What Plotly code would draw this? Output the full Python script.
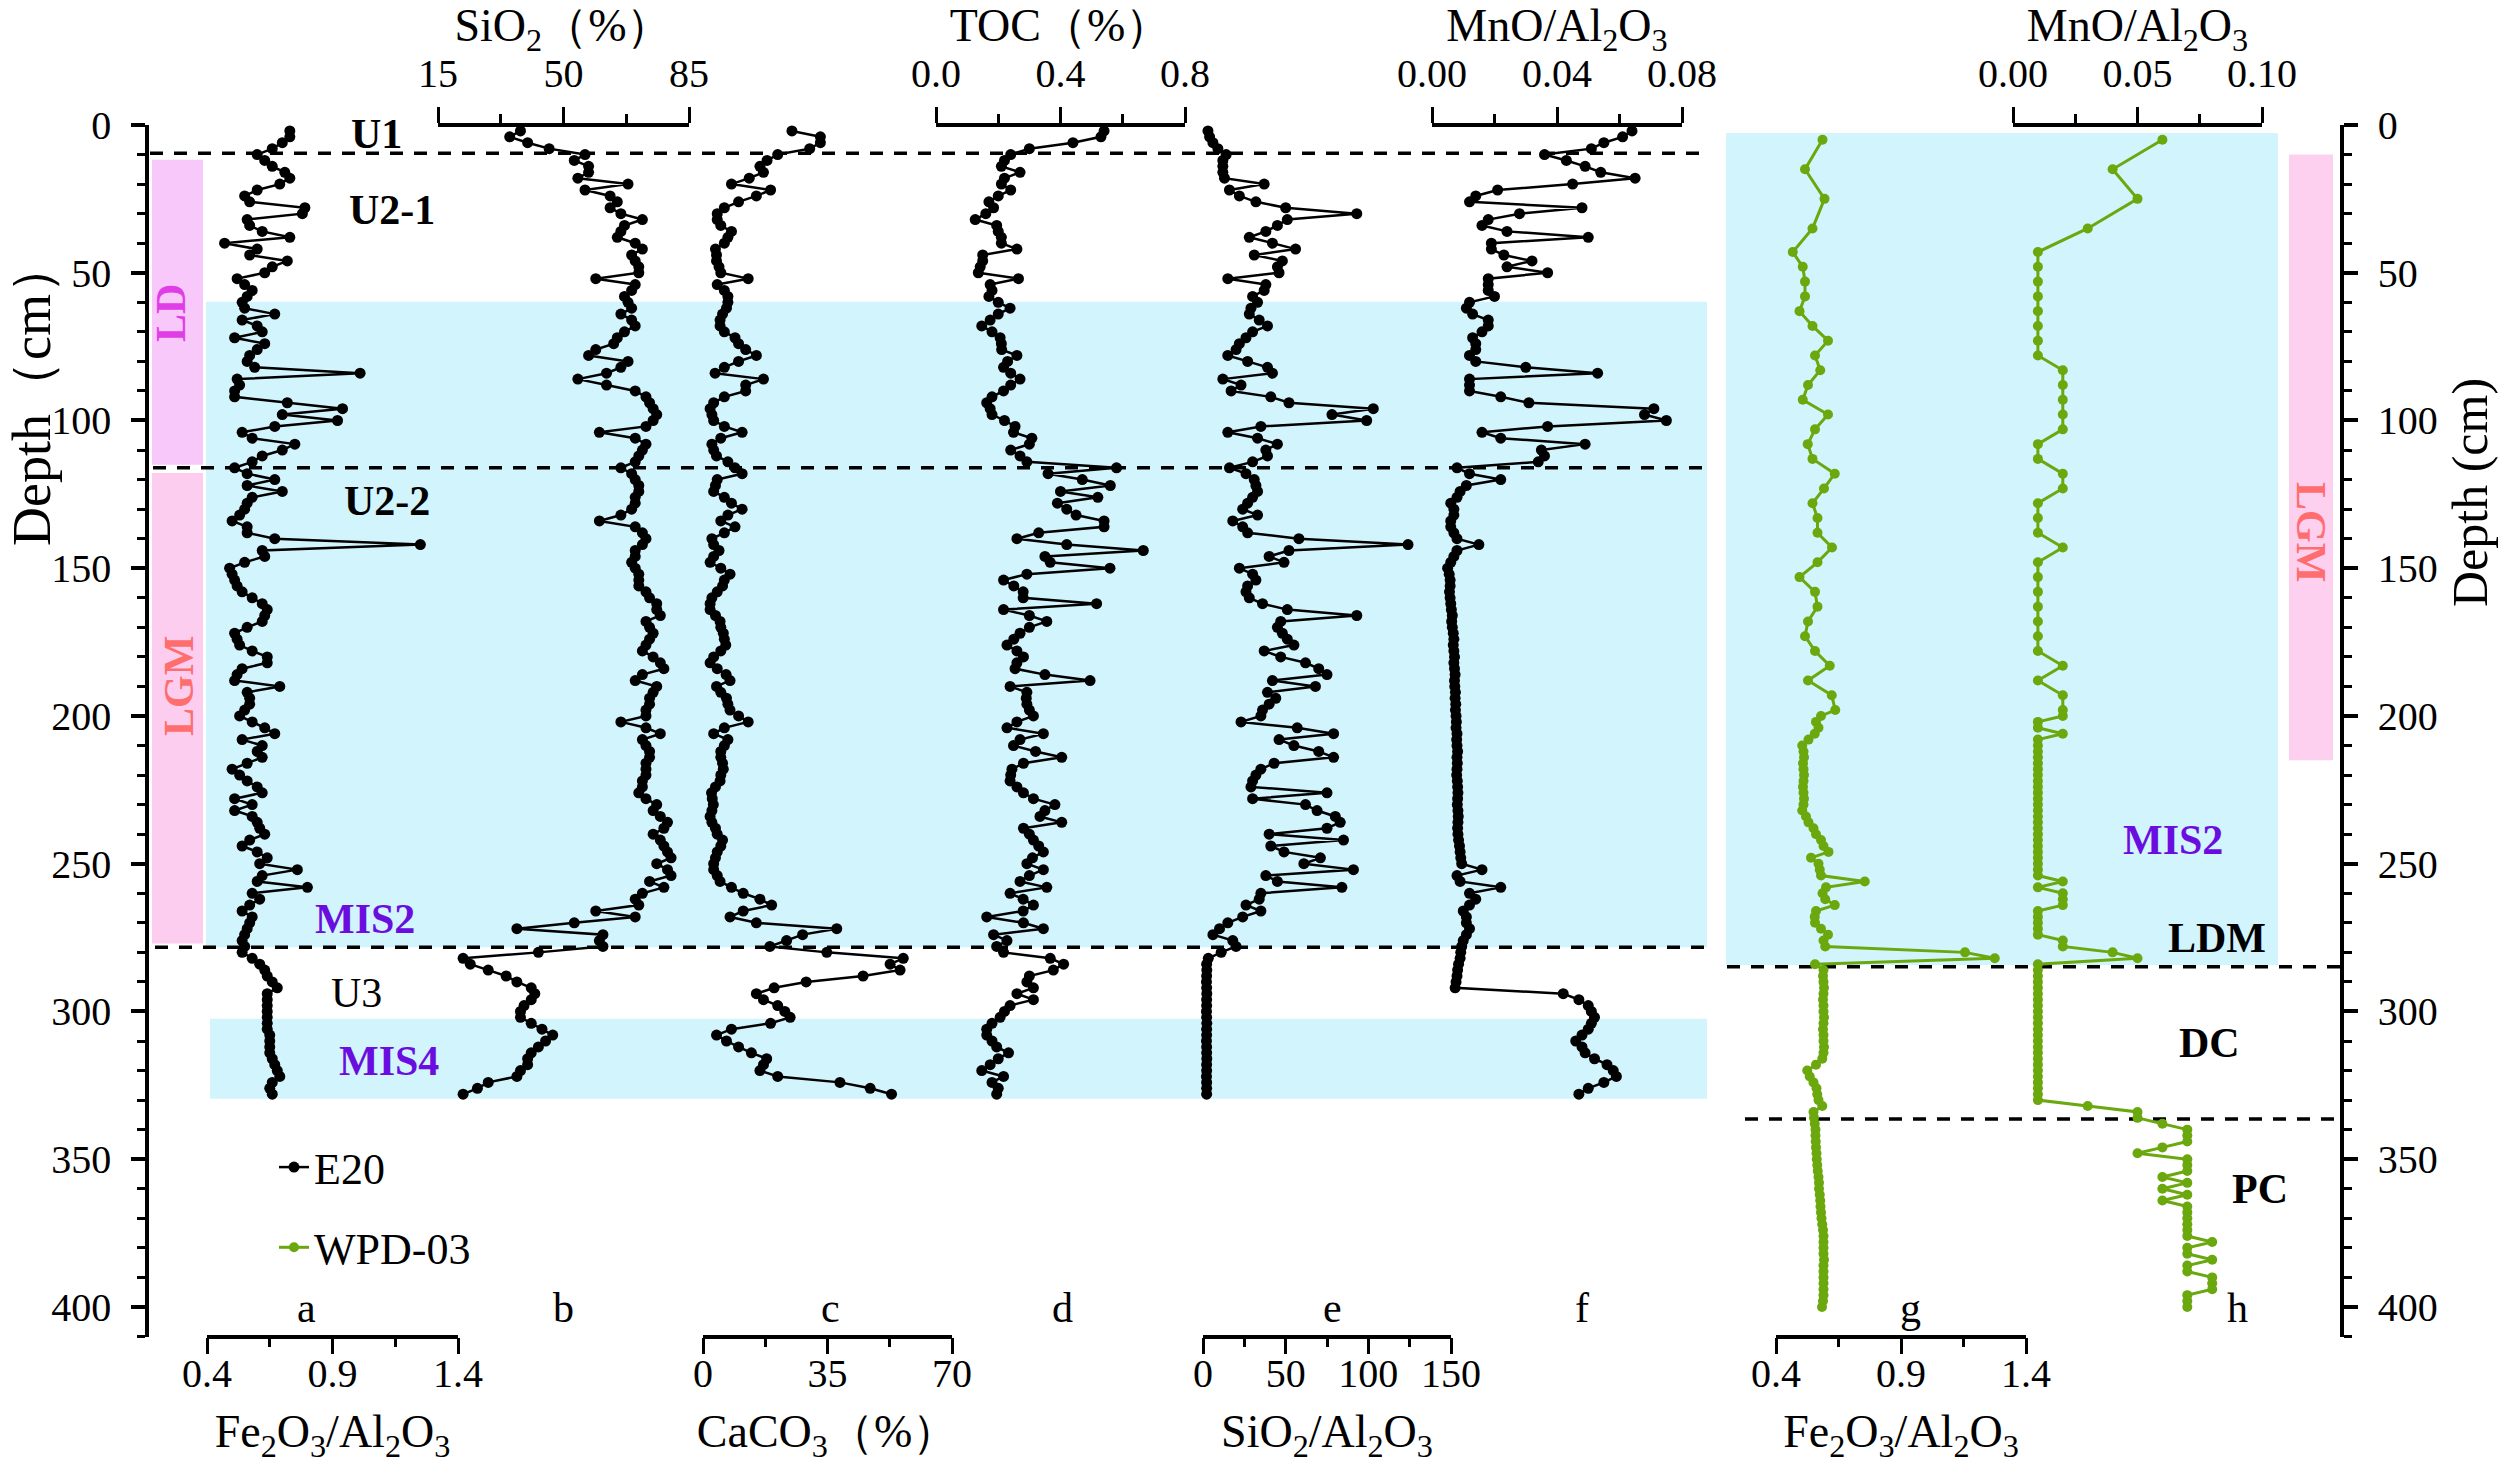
import plotly.graph_objects as go

# ---------------- data ----------------
e20_depth = [
    2, 4, 6, 8, 10, 12, 14, 16, 18, 20,
    22, 24, 26, 28, 30, 32, 34, 36, 38, 40,
    42, 44, 46, 48, 50, 52, 54, 56, 58, 60,
    62, 64, 66, 68, 70, 72, 74, 76, 78, 80,
    82, 84, 86, 88, 90, 92, 94, 96, 98, 100,
    102, 104, 106, 108, 110, 112, 114, 116, 118, 120,
    122, 124, 126, 128, 130, 132, 134, 136, 138, 140,
    142, 144, 146, 148, 150, 152, 154, 156, 158, 160,
    162, 164, 166, 168, 170, 172, 174, 176, 178, 180,
    182, 184, 186, 188, 190, 192, 194, 196, 198, 200,
    202, 204, 206, 208, 210, 212, 214, 216, 218, 220,
    222, 224, 226, 228, 230, 232, 234, 236, 238, 240,
    242, 244, 246, 248, 250, 252, 254, 256, 258, 260,
    262, 264, 266, 268, 270, 272, 274, 276, 278, 280,
    282, 284, 286, 288, 290, 292, 294, 296, 298, 300,
    302, 304, 306, 308, 310, 312, 314, 316, 318, 320,
    322, 324, 326, 328,
]

e20_fe2o3_al2o3 = [
    0.73, 0.73, 0.70, 0.66, 0.60, 0.63, 0.66, 0.71, 0.73, 0.69,
    0.60, 0.55, 0.57, 0.79, 0.78, 0.56, 0.57, 0.62, 0.73, 0.47,
    0.60, 0.57, 0.72, 0.66, 0.63, 0.52, 0.55, 0.58, 0.56, 0.54,
    0.55, 0.67, 0.54, 0.60, 0.62, 0.51, 0.63, 0.60, 0.57, 0.56,
    0.59, 1.01, 0.52, 0.53, 0.51, 0.51, 0.72, 0.94, 0.70, 0.92,
    0.67, 0.54, 0.58, 0.75, 0.70, 0.62, 0.58, 0.51, 0.56, 0.67,
    0.56, 0.70, 0.58, 0.56, 0.55, 0.53, 0.50, 0.56, 0.56, 0.67,
    1.25, 0.62, 0.63, 0.55, 0.49, 0.50, 0.51, 0.52, 0.54, 0.58,
    0.62, 0.64, 0.63, 0.62, 0.56, 0.51, 0.52, 0.53, 0.58, 0.64,
    0.64, 0.54, 0.52, 0.51, 0.69, 0.56, 0.57, 0.57, 0.55, 0.53,
    0.58, 0.63, 0.67, 0.54, 0.62, 0.60, 0.62, 0.56, 0.50, 0.53,
    0.56, 0.60, 0.62, 0.51, 0.58, 0.51, 0.58, 0.60, 0.61, 0.63,
    0.57, 0.54, 0.60, 0.64, 0.61, 0.76, 0.62, 0.60, 0.80, 0.58,
    0.61, 0.57, 0.54, 0.58, 0.57, 0.56, 0.55, 0.54, 0.55, 0.54,
    0.58, 0.61, 0.63, 0.64, 0.66, 0.68, 0.64, 0.64, 0.64, 0.64,
    0.64, 0.64, 0.64, 0.65, 0.65, 0.65, 0.65, 0.66, 0.67, 0.68,
    0.69, 0.66, 0.65, 0.66,
]

e20_sio2 = [
    38, 35, 40, 46, 56, 53, 57, 57, 54, 68,
    56, 63, 65, 63, 66, 72, 67, 66, 65, 70,
    72, 69, 70, 71, 71, 59, 70, 69, 67, 68,
    69, 66, 69, 70, 67, 65, 64, 59, 57, 68,
    66, 62, 54, 62, 70, 73, 74, 75, 76, 75,
    73, 60, 70, 73, 72, 71, 70, 66, 69, 70,
    71, 71, 70, 70, 69, 66, 60, 70, 72, 73,
    72, 70, 70, 69, 70, 71, 71, 71, 73, 74,
    76, 76, 77, 73, 74, 75, 74, 73, 72, 75,
    77, 78, 72, 70, 76, 75, 74, 74, 73, 73,
    66, 73, 77, 72, 73, 74, 74, 73, 73, 73,
    72, 72, 71, 73, 76, 75, 77, 79, 78, 75,
    77, 78, 79, 80, 76, 79, 80, 74, 78, 72,
    70, 71, 59, 70, 53, 37, 61, 60, 61, 43,
    22, 24, 29, 34, 37, 41, 42, 41, 39, 38,
    38, 41, 44, 47, 45, 43, 41, 40, 40, 38,
    37, 29, 26, 22,
]

e20_caco3 = [
    25, 33, 33, 30, 21, 18, 16, 17, 13, 8,
    19, 15, 10, 6, 4, 4, 5, 8, 7, 6,
    3.5, 3.8, 3.8, 4.5, 5, 12.7, 4, 6, 7, 7,
    6.6, 5.5, 4.8, 4.8, 6, 9, 10, 12, 15, 10,
    6, 3.4, 17, 12, 12, 6, 3, 2, 2.5, 3,
    6, 11, 5, 2.5, 3, 3.8, 7, 9, 11, 4,
    3.5, 3, 6, 8, 11, 7, 5, 9, 6, 2.5,
    3, 4.5, 3, 2, 5, 7.6, 6, 5.5, 4, 2.5,
    2, 2, 3.5, 4.8, 5, 5.7, 6, 6.4, 5, 3,
    2, 4, 6.5, 7.6, 3.8, 5, 6.6, 7, 7.6, 10,
    12.7, 6, 3, 7, 6, 5, 5, 5.5, 5.7, 5,
    4.8, 3.5, 2.4, 2.6, 2.9, 2.5, 2, 2.5, 3.5, 4,
    5.5, 5, 4, 3.5, 3, 3, 4, 4.8, 8, 11.3,
    16, 19.3, 11.3, 7.6, 15, 37.6, 28, 23.5, 18.8, 34.8,
    56.3, 52.6, 55.4, 45, 29, 20, 15, 17, 21, 23,
    24.5, 19, 8, 3.8, 6.6, 10, 13.6, 17.9, 17, 16,
    21, 38.5, 47, 53,
]

e20_toc = [
    0.54, 0.53, 0.44, 0.30, 0.24, 0.22, 0.21, 0.27, 0.22, 0.21,
    0.24, 0.20, 0.17, 0.185, 0.16, 0.126, 0.195, 0.20, 0.21, 0.21,
    0.26, 0.15, 0.15, 0.142, 0.136, 0.265, 0.174, 0.18, 0.17, 0.20,
    0.238, 0.20, 0.174, 0.147, 0.18, 0.206, 0.21, 0.211, 0.26, 0.23,
    0.217, 0.24, 0.27, 0.24, 0.217, 0.18, 0.163, 0.174, 0.18, 0.22,
    0.254, 0.249, 0.308, 0.30, 0.24, 0.27, 0.292, 0.58, 0.36, 0.47,
    0.56, 0.40, 0.52, 0.39, 0.42, 0.45, 0.54, 0.54, 0.33, 0.26,
    0.42, 0.666, 0.35, 0.367, 0.559, 0.292, 0.217, 0.25, 0.28, 0.28,
    0.516, 0.217, 0.30, 0.356, 0.30, 0.27, 0.25, 0.228, 0.26, 0.281,
    0.26, 0.254, 0.35, 0.495, 0.238, 0.292, 0.29, 0.292, 0.30, 0.313,
    0.26, 0.228, 0.345, 0.27, 0.249, 0.32, 0.404, 0.281, 0.244, 0.24,
    0.238, 0.26, 0.281, 0.313, 0.382, 0.35, 0.334, 0.404, 0.281, 0.30,
    0.313, 0.33, 0.345, 0.31, 0.292, 0.345, 0.30, 0.27, 0.356, 0.238,
    0.28, 0.313, 0.28, 0.163, 0.281, 0.345, 0.185, 0.228, 0.195, 0.217,
    0.367, 0.41, 0.377, 0.30, 0.292, 0.313, 0.26, 0.313, 0.238, 0.22,
    0.206, 0.18, 0.163, 0.163, 0.18, 0.195, 0.233, 0.20, 0.174, 0.147,
    0.217, 0.18, 0.20, 0.195,
]

e20_sio2_al2o3 = [
    3, 4, 6, 9, 14, 12, 12, 12, 13, 37,
    16, 22, 32, 50, 93, 51, 45, 38, 28, 42,
    56, 31, 48, 45, 46, 15, 38, 37, 30, 33,
    29, 28, 34, 39, 30, 26, 22, 20, 15, 27,
    39, 42, 12, 23, 17, 41, 52, 103, 78, 99,
    35, 15, 33, 45, 38, 39, 30, 16, 26, 31,
    32, 33, 30, 27, 24, 33, 18, 24, 27, 58,
    124, 52, 40, 49, 22, 30, 32, 27, 26, 28,
    36, 51, 93, 47, 45, 48, 51, 55, 37, 47,
    62, 70, 75, 42, 68, 39, 44, 40, 36, 35,
    23, 57, 79, 46, 55, 70, 79, 43, 35, 32,
    30, 29, 75, 30, 62, 69, 80, 83, 75, 40,
    85, 41, 49, 71, 61, 91, 38, 45, 84, 35,
    34, 26, 35, 24, 15, 10, 6, 18, 20, 11,
    3.2, 2.2, 2.3, 2.2, 2.1, 2.2, 2.3, 2.2, 2.2, 2.1,
    2.2, 2.3, 2.2, 2.2, 2.1, 2.2, 2.2, 2.3, 2.2, 2.2,
    2.1, 2.2, 2.2, 2.2,
]

e20_mno_al2o3 = [
    0.064, 0.061, 0.055, 0.051, 0.036, 0.043, 0.049, 0.054, 0.065, 0.045,
    0.021, 0.014, 0.012, 0.048, 0.028, 0.018, 0.016, 0.024, 0.050, 0.019,
    0.019, 0.023, 0.032, 0.024, 0.037, 0.018, 0.018, 0.018, 0.020, 0.012,
    0.011, 0.013, 0.018, 0.018, 0.016, 0.013, 0.014, 0.014, 0.012, 0.014,
    0.030, 0.053, 0.012, 0.012, 0.012, 0.022, 0.031, 0.071, 0.068, 0.075,
    0.037, 0.016, 0.022, 0.049, 0.035, 0.036, 0.034, 0.008, 0.012, 0.022,
    0.011, 0.009, 0.008, 0.006, 0.007, 0.007, 0.006, 0.006, 0.007, 0.008,
    0.015, 0.008, 0.007, 0.006, 0.005, 0.0055, 0.0058, 0.0058, 0.0056, 0.0058,
    0.0060, 0.0062, 0.0065, 0.0063, 0.0065, 0.0068, 0.0070, 0.0068, 0.0070, 0.0072,
    0.0070, 0.0072, 0.0074, 0.0072, 0.0073, 0.0075, 0.0074, 0.0076, 0.0075, 0.0077,
    0.0078, 0.0077, 0.0080, 0.0079, 0.0080, 0.0082, 0.0080, 0.0081, 0.0080, 0.0079,
    0.0081, 0.0082, 0.0083, 0.0082, 0.0081, 0.0083, 0.0084, 0.0083, 0.0082, 0.0083,
    0.0085, 0.0088, 0.0090, 0.0092, 0.0095, 0.016, 0.008, 0.009, 0.022, 0.012,
    0.014, 0.012, 0.010, 0.011, 0.011, 0.012, 0.011, 0.010, 0.0095, 0.0092,
    0.0090, 0.0085, 0.0082, 0.0080, 0.0077, 0.0074, 0.042, 0.047, 0.050, 0.051,
    0.052, 0.051, 0.050, 0.048, 0.046, 0.048, 0.049, 0.052, 0.056, 0.058,
    0.059, 0.055, 0.050, 0.047,
]

wpd_depth = [
    5, 15, 25, 35, 43, 48, 53, 58, 63, 68, 73, 78, 83, 88, 93, 98, 103, 108,
    113, 118, 123, 128, 133, 138, 143, 148, 153, 158, 163, 168, 173, 178, 183,
    188, 193, 198,
    200, 202, 204, 206, 208, 210, 212, 214, 216, 218,
    220, 222, 224, 226, 228, 230, 232, 234, 236, 238,
    240, 242, 244, 246, 248, 250, 252, 254, 256, 258,
    260, 262, 264, 266, 268, 270, 272, 274, 276, 278,
    280, 282, 284, 286, 288, 290, 292, 294, 296, 298,
    300, 302, 304, 306, 308, 310, 312, 314, 316, 318,
    320, 322, 324, 326, 328, 330, 332, 334, 336, 338,
    340, 342, 344, 346, 348, 350, 352, 354, 356, 358,
    360, 362, 364, 366, 368, 370, 372, 374, 376, 378,
    380, 382, 384, 386, 388, 390, 392, 394, 396, 398,
    400,
]

wpd_fe2o3_al2o3 = [
    0.586, 0.516, 0.594, 0.546, 0.467, 0.507, 0.516, 0.516, 0.494, 0.546,
    0.608, 0.556, 0.577, 0.528, 0.507, 0.608, 0.556, 0.527, 0.546, 0.635,
    0.592, 0.546, 0.566, 0.566, 0.624, 0.566, 0.494, 0.556, 0.566, 0.528,
    0.516, 0.556, 0.615, 0.528, 0.623, 0.637,
    0.58, 0.56, 0.57, 0.555, 0.53, 0.505, 0.51, 0.512, 0.508, 0.51,
    0.512, 0.51, 0.508, 0.51, 0.512, 0.51, 0.505, 0.52, 0.53, 0.55,
    0.56, 0.58, 0.59, 0.61, 0.54, 0.57, 0.575, 0.58, 0.755, 0.60,
    0.586, 0.597, 0.635, 0.56, 0.555, 0.556, 0.58, 0.608, 0.59, 0.597,
    1.156, 1.275, 0.556, 0.59, 0.588, 0.59, 0.592, 0.59, 0.588, 0.59,
    0.59, 0.592, 0.59, 0.588, 0.59, 0.59, 0.592, 0.59, 0.585, 0.56,
    0.525, 0.535, 0.55, 0.562, 0.565, 0.57, 0.585, 0.55, 0.552, 0.555,
    0.558, 0.558, 0.559, 0.56, 0.562, 0.563, 0.565, 0.567, 0.57, 0.572,
    0.572, 0.575, 0.577, 0.578, 0.58, 0.582, 0.585, 0.588, 0.59, 0.59,
    0.59, 0.59, 0.592, 0.59, 0.59, 0.59, 0.59, 0.59, 0.59, 0.588,
    0.584,
]

wpd_mno_al2o3 = [
    0.06, 0.04, 0.05, 0.03, 0.01, 0.01, 0.01, 0.01, 0.01, 0.01,
    0.01, 0.01, 0.02, 0.02, 0.02, 0.02, 0.02, 0.01, 0.01, 0.02,
    0.02, 0.01, 0.01, 0.01, 0.02, 0.01, 0.01, 0.01, 0.01, 0.01,
    0.01, 0.01, 0.02, 0.01, 0.02, 0.02,
    0.02, 0.01, 0.01, 0.02, 0.01, 0.01, 0.01, 0.01, 0.01, 0.01,
    0.01, 0.01, 0.01, 0.01, 0.01, 0.01, 0.01, 0.01, 0.01, 0.01,
    0.01, 0.01, 0.01, 0.01, 0.01, 0.01, 0.01, 0.01, 0.02, 0.01,
    0.02, 0.02, 0.02, 0.01, 0.01, 0.01, 0.01, 0.01, 0.02, 0.02,
    0.04, 0.05, 0.01, 0.01, 0.01, 0.01, 0.01, 0.01, 0.01, 0.01,
    0.01, 0.01, 0.01, 0.01, 0.01, 0.01, 0.01, 0.01, 0.01, 0.01,
    0.01, 0.01, 0.01, 0.01, 0.01, 0.01, 0.03, 0.05, 0.05, 0.06,
    0.07, 0.07, 0.07, 0.06, 0.05, 0.07, 0.07, 0.07, 0.06, 0.07,
    0.06, 0.07, 0.06, 0.07, 0.07, 0.07, 0.07, 0.07, 0.07, 0.08,
    0.07, 0.07, 0.08, 0.07, 0.07, 0.08, 0.08, 0.08, 0.07, 0.07,
    0.07,
]

depth_ticks = [0, 50, 100, 150, 200, 250, 300, 350, 400]
depth_minor = [10, 20, 30, 40, 60, 70, 80, 90, 110, 120, 130, 140, 160, 170, 180,
               190, 210, 220, 230, 240, 260, 270, 280, 290, 310, 320, 330, 340,
               360, 370, 380, 390, 410]

assert len(e20_depth) == 164
for s in (e20_fe2o3_al2o3, e20_sio2, e20_caco3, e20_toc, e20_sio2_al2o3, e20_mno_al2o3):
    assert len(s) == len(e20_depth), len(s)
for s in (wpd_fe2o3_al2o3, wpd_mno_al2o3):
    assert len(s) == len(wpd_depth), len(s)

# ---------------- layout helpers ----------------
W, H = 2500, 1464
FONT = '"Liberation Serif", "Times New Roman", serif'
BLACK = "black"
GREEN = "#6aa80e"
BLUE = "#d2f4fd"


def px(x):
    return x / W


def py(y):
    return 1 - y / H


Y_DOM = [py(1336.5), py(125.0)]

fig = go.Figure()

# panels: key, pixel span, range, major ticks, minor ticks, format, side, title
panels = [
    ("x", (207, 458), (0.4, 1.4), [0.4, 0.9, 1.4], [0.65, 1.15], ".1f", "bottom",
     "Fe<sub>2</sub>O<sub>3</sub>/Al<sub>2</sub>O<sub>3</sub>"),
    ("x2", (438, 689), (15, 85), [15, 50, 85], [32.5, 67.5], "d", "top",
     "SiO<sub>2</sub>（%）"),
    ("x3", (703, 952), (0, 70), [0, 35, 70], [17.5, 52.5], "d", "bottom",
     "CaCO<sub>3</sub>（%）"),
    ("x4", (936, 1185), (0, 0.8), [0.0, 0.4, 0.8], [0.2, 0.6], ".1f", "top",
     "TOC（%）"),
    ("x5", (1203, 1451), (0, 150), [0, 50, 100, 150], [25, 75, 125], "d", "bottom",
     "SiO<sub>2</sub>/Al<sub>2</sub>O<sub>3</sub>"),
    ("x6", (1432, 1682), (0, 0.08), [0.0, 0.04, 0.08], [0.02, 0.06], ".2f", "top",
     "MnO/Al<sub>2</sub>O<sub>3</sub>"),
    ("x7", (1776, 2026), (0.4, 1.4), [0.4, 0.9, 1.4], [0.65, 1.15], ".1f", "bottom",
     "Fe<sub>2</sub>O<sub>3</sub>/Al<sub>2</sub>O<sub>3</sub>"),
    ("x8", (2013, 2262), (0, 0.10), [0.0, 0.05, 0.10], [0.025, 0.075], ".2f", "top",
     "MnO/Al<sub>2</sub>O<sub>3</sub>"),
]

axis_layout = {}
for key, span, rng, major, minor, fmt, side, title in panels:
    name = "xaxis" if key == "x" else "xaxis" + key[1:]
    top = side == "top"
    axis_layout[name] = dict(
        domain=[px(span[0]), px(span[1])], range=list(rng), anchor="free",
        position=Y_DOM[1] if top else Y_DOM[0], side=side,
        automargin=False,
        tickmode="array", tickvals=major, tickformat=fmt,
        ticks="outside", ticklen=16, tickwidth=3, tickcolor=BLACK,
        showline=True, linewidth=3.5, linecolor=BLACK,
        showgrid=False, zeroline=False, fixedrange=True,
        minor=dict(tickvals=minor, ticks="outside", ticklen=9, tickwidth=3,
                   tickcolor=BLACK, showgrid=False),
        tickfont=dict(size=40, family=FONT, color=BLACK),
        ticklabelstandoff=4 if top else -15,
        title=dict(text=title, font=dict(size=46, family=FONT, color=BLACK),
                   standoff=5 if top else 22),
    )

# E20 series
e20_series = [e20_fe2o3_al2o3, e20_sio2, e20_caco3, e20_toc, e20_sio2_al2o3, e20_mno_al2o3]
for i, vals in enumerate(e20_series):
    fig.add_trace(go.Scatter(
        x=vals, y=e20_depth, xaxis=panels[i][0], yaxis="y", mode="lines+markers",
        line=dict(color=BLACK, width=2.5), marker=dict(color=BLACK, size=11),
        name="E20", legendgroup="E20", showlegend=(i == 0), cliponaxis=False,
    ))

# WPD-03 series
for j, vals in enumerate([wpd_fe2o3_al2o3, wpd_mno_al2o3]):
    fig.add_trace(go.Scatter(
        x=vals, y=wpd_depth, xaxis=panels[6 + j][0], yaxis="y2", mode="lines+markers",
        line=dict(color=GREEN, width=3), marker=dict(color=GREEN, size=10),
        name="WPD-03", legendgroup="WPD", showlegend=(j == 0), cliponaxis=False,
    ))

ycommon = dict(
    range=[410, 0], tickmode="array", tickvals=depth_ticks, automargin=False,
    ticks="outside", ticklen=14, tickwidth=3.5, tickcolor=BLACK,
    showline=True, linewidth=3.5, linecolor=BLACK, showgrid=False, zeroline=False,
    fixedrange=True,
    minor=dict(tickvals=depth_minor, ticks="outside", ticklen=8, tickwidth=3,
               tickcolor=BLACK, showgrid=False),
    tickfont=dict(size=40, family=FONT, color=BLACK), ticklabelstandoff=12,
)

fig.update_layout(
    template="none",
    width=W, height=H, margin=dict(l=0, r=0, t=0, b=0, pad=0), autosize=False,
    paper_bgcolor="white", plot_bgcolor="rgba(0,0,0,0)",
    font=dict(family=FONT, color=BLACK, size=40),
    yaxis=dict(domain=Y_DOM, anchor="free", position=px(147), side="left", **ycommon),
    yaxis2=dict(domain=Y_DOM, anchor="free", position=px(2342), side="right",
                overlaying="y", matches="y", **ycommon),
    legend=dict(x=px(274), y=py(1132), xanchor="left", yanchor="top",
                font=dict(size=44, family=FONT, color=BLACK), bgcolor="rgba(0,0,0,0)",
                tracegroupgap=20, itemwidth=30),
    **axis_layout,
)

# ---------------- background bands and boundaries ----------------
def band(x0, x1, d0, d1, color):
    fig.add_shape(type="rect", xref="paper", yref="y", x0=px(x0), x1=px(x1), y0=d0, y1=d1,
                  fillcolor=color, line=dict(width=0), layer="below")


band(206, 1707, 59.8, 278.3, BLUE)          # MIS2 (E20)
band(210, 1707, 302.5, 329.5, BLUE)         # MIS4 (E20)
band(1726, 2278, 2.7, 284.3, BLUE)          # MIS2 (WPD-03)
band(152, 203, 11.8, 115.0, "#f9c8fa")      # LD
band(152, 203, 117.8, 277.0, "#fccdee")     # LGM (left)
band(2289, 2333, 10.0, 215.0, "#fdd0f0")    # LGM (right)


def dashed(x0, x1, d):
    fig.add_shape(type="line", xref="paper", yref="y", x0=px(x0), x1=px(x1), y0=d, y1=d,
                  line=dict(color=BLACK, width=3.5, dash="13px,11px"), layer="below")


dashed(150, 1705, 9.6)
dashed(153, 1707, 116.0)
dashed(155, 1707, 278.3)
dashed(1727, 2342, 284.9)
dashed(1745, 2340, 336.4)

# ---------------- text labels ----------------
PURPLE = "#6a0ddf"


def label(text, x, y, size=42, color=BLACK, angle=0):
    fig.add_annotation(text=text, x=px(x), y=py(y), xref="paper", yref="paper",
                       showarrow=False, xanchor="center", yanchor="middle",
                       textangle=angle, font=dict(size=size, color=color, family=FONT))


# depth axis titles
label("Depth（cm）", 32, 393, size=54, angle=-90)
label("Depth (cm)", 2470, 493, size=50, angle=-90)

label("<b>U1</b>", 376, 134)
label("<b>U2-1</b>", 392, 210)
label("<b>U2-2</b>", 387, 501)
label("U3", 356, 993)
label("<b>MIS2</b>", 365, 919, color=PURPLE)
label("<b>MIS4</b>", 389, 1061, color=PURPLE)
label("<b>MIS2</b>", 2173, 840, color=PURPLE)
label("<b>LDM</b>", 2217, 938)
label("<b>DC</b>", 2209, 1043)
label("<b>PC</b>", 2260, 1189)
label("<b>LD</b>", 171, 313, color="#e03de6", angle=-90)
label("<b>LGM</b>", 179, 686, color="#ff6e6e", angle=-90)
label("<b>LGM</b>", 2311, 532, color="#ff6e6e", angle=90)

for letter, x in zip("abcdefgh", [306, 563, 831, 1062, 1332, 1582, 1910, 2237]):
    label(letter, x, 1308, size=42)

fig.write_html(
    "out.html",
    config={"displayModeBar": False},
    post_script="document.body.style.margin='0px';document.body.style.overflow='hidden';",
)
